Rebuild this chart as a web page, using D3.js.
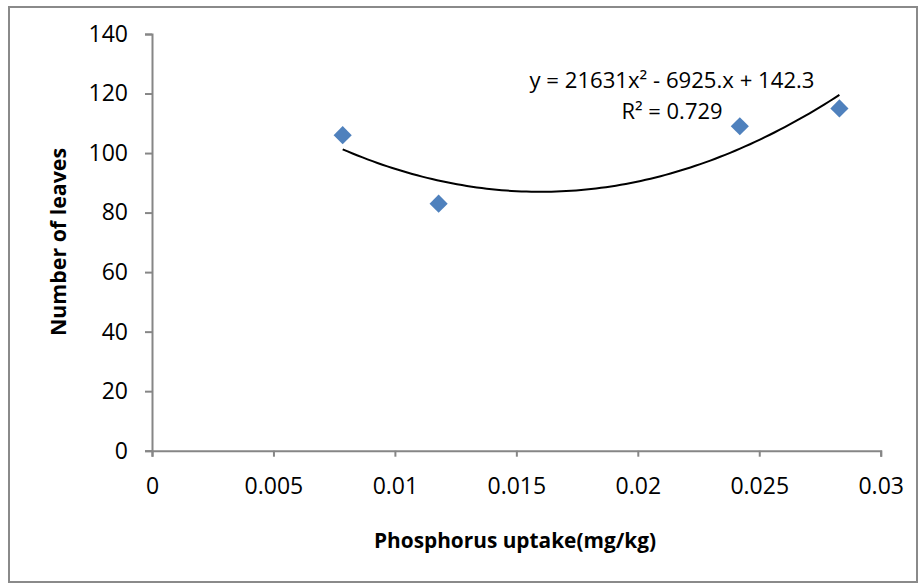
<!DOCTYPE html>
<html><head><meta charset="utf-8">
<script src="https://cdn.jsdelivr.net/npm/d3@7"></script>
<style>body{margin:0;background:#fff}svg{display:block}text{font-family:"Open Sans",Lato,sans-serif}</style>
</head><body>
<script>
const xValues = [0.00785, 0.0118, 0.0242, 0.0283];
const yValues = [106, 83, 109, 115];
const xTicks = [0, 0.005, 0.01, 0.015, 0.02, 0.025, 0.03];
const yTicks = [0, 20, 40, 60, 80, 100, 120, 140];
const xTitle = "Phosphorus uptake(mg/kg)";
const yTitle = "Number of leaves";
const eqLine1 = "y = 21631x² - 6925.x + 142.3";
const eqLine2 = "R² = 0.729";

const W = 919, H = 584;
const svg = d3.select("body").append("svg").attr("width", W).attr("height", H);
svg.append("rect").attr("x", 9).attr("y", 7).attr("width", 908).attr("height", 575)
  .attr("fill", "#fff").attr("stroke", "#8a8a8a").attr("stroke-width", 2);

const x = d3.scaleLinear().domain([0, 0.03]).range([152, 880.7]);
const y = d3.scaleLinear().domain([0, 140]).range([450.7, 34]);

const axisColor = "#868686";
const gx = svg.append("g").attr("transform", `translate(0,${y(0)})`)
  .call(d3.axisBottom(x).tickValues(xTicks).tickSize(6).tickPadding(21).tickFormat(d => d3.format("")(+d.toFixed(3))));
const gy = svg.append("g").attr("transform", `translate(${x(0)},0)`)
  .call(d3.axisLeft(y).tickValues(yTicks).tickSize(7).tickPadding(17));
[gx, gy].forEach(g => {
  g.attr("font-size", null).attr("font-family", null);
  g.select(".domain").attr("stroke", axisColor).attr("stroke-width", 2);
  g.selectAll(".tick line").attr("stroke", axisColor).attr("stroke-width", 2);
  g.selectAll(".tick text").attr("fill", "#000").attr("font-size", 23).style("font-size", "23px");
});

// least squares quadratic fit
const n = xValues.length;
const S = k => d3.sum(xValues, v => Math.pow(v, k));
const T = k => d3.sum(xValues, (v, i) => Math.pow(v, k) * yValues[i]);
function solve3(A, b) {
  const M = A.map((r, i) => [...r, b[i]]);
  for (let i = 0; i < 3; i++) {
    let p = i; for (let r = i + 1; r < 3; r++) if (Math.abs(M[r][i]) > Math.abs(M[p][i])) p = r;
    [M[i], M[p]] = [M[p], M[i]];
    for (let r = 0; r < 3; r++) if (r !== i) { const f = M[r][i] / M[i][i]; for (let c = i; c < 4; c++) M[r][c] -= f * M[i][c]; }
  }
  return M.map((r, i) => r[3] / r[i]);
}
const [c0, c1, c2] = solve3([[n, S(1), S(2)], [S(1), S(2), S(3)], [S(2), S(3), S(4)]], [T(0), T(1), T(2)]);
const fitPts = d3.range(0, 101).map(i => {
  const xv = d3.min(xValues) + (d3.max(xValues) - d3.min(xValues)) * i / 100;
  return [xv, c0 + c1 * xv + c2 * xv * xv];
});
svg.append("path").datum(fitPts)
  .attr("d", d3.line().x(d => x(d[0])).y(d => y(d[1])).curve(d3.curveLinear))
  .attr("fill", "none").attr("stroke", "#000").attr("stroke-width", 2);

svg.append("g").selectAll("path").data(xValues.map((v, i) => [v, yValues[i]])).join("path")
  .attr("d", d3.symbol().type(d3.symbolSquare).size(165))
  .attr("transform", d => `translate(${x(d[0])},${y(d[1])}) rotate(45)`)
  .attr("fill", "#4f81bd");

svg.append("text").attr("x", 672).attr("y", 88).attr("text-anchor", "middle")
  .style("font-size", "21px").attr("textLength", 285).attr("lengthAdjust", "spacingAndGlyphs").text(eqLine1);
svg.append("text").attr("x", 672).attr("y", 119).attr("text-anchor", "middle")
  .style("font-size", "21px").attr("textLength", 101).attr("lengthAdjust", "spacingAndGlyphs").text(eqLine2);

svg.append("text").attr("x", 515).attr("y", 548).attr("text-anchor", "middle")
  .style("font-size", "22px").style("font-weight", "bold")
  .attr("textLength", 282).attr("lengthAdjust", "spacingAndGlyphs").text(xTitle);
svg.append("text").attr("transform", "translate(66,242) rotate(-90)").attr("text-anchor", "middle")
  .style("font-size", "22px").style("font-weight", "bold")
  .attr("textLength", 188).attr("lengthAdjust", "spacingAndGlyphs").text(yTitle);
</script>
</body></html>
